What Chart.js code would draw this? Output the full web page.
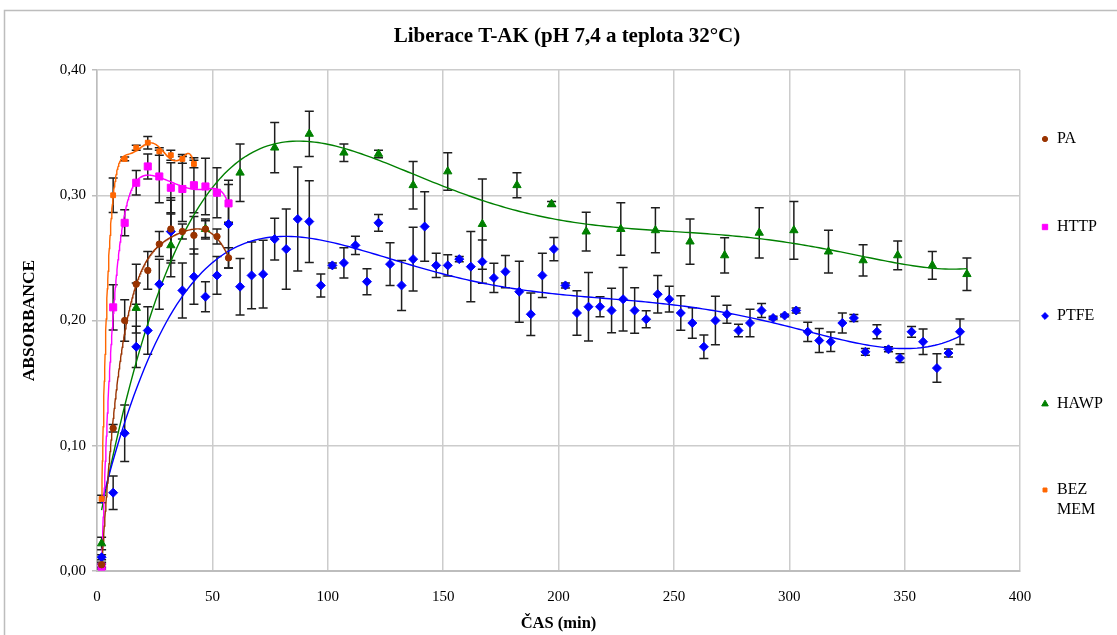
<!DOCTYPE html>
<html lang="cs">
<head>
<meta charset="utf-8">
<title>Liberace T-AK</title>
<script src="https://cdn.jsdelivr.net/npm/chart.js@4.4.1/dist/chart.umd.min.js"></script>
<style>
  html, body { margin: 0; padding: 0; background: #fff; }
  #wrap { width: 1117px; height: 635px; position: relative; }
</style>
</head>
<body>
<div id="wrap"><canvas id="c" width="1117" height="635"></canvas></div>
<script>
// Sampling times (min), mean absorbance and error (± half-width) per membrane
const paTime  = [2, 7, 12, 17, 22, 27, 32, 37, 42, 47, 52, 57];
const paAbs   = [0.005, 0.114, 0.200, 0.229, 0.240, 0.261, 0.273, 0.271, 0.268, 0.273, 0.267, 0.250];
const paErr   = [0.002, 0.003, 0.0165, 0.016, 0.015, 0.010, 0.025, 0.006, 0.015, 0.008, 0.006, 0.008];

const httpTime = [2, 7, 12, 17, 22, 27, 32, 37, 42, 47, 52, 57];
const httpAbs  = [0.0035, 0.2105, 0.278, 0.310, 0.323, 0.315, 0.306, 0.305, 0.308, 0.307, 0.302, 0.2935];
const httpErr  = [0.002, 0.018, 0.0104, 0.0098, 0.010, 0.021, 0.020, 0.026, 0.022, 0.0226, 0.020, 0.015];

const ptfeTime = [2, 7, 12, 17, 22, 27, 32, 37, 42, 47, 52, 57, 62, 67, 72, 77, 82, 87, 92, 97,
                  102, 107, 112, 117, 122, 127, 132, 137, 142, 147, 152, 157, 162, 167, 172, 177,
                  183, 188, 193, 198, 203, 208, 213, 218, 223, 228, 233, 238, 243, 248, 253, 258,
                  263, 268, 273, 278, 283, 288, 293, 298, 303, 308, 313, 318, 323, 328, 333, 338,
                  343, 348, 353, 358, 364, 369, 374];
const ptfeAbs  = [0.011, 0.0625, 0.110, 0.179, 0.192, 0.229, 0.271, 0.224, 0.235, 0.219, 0.236, 0.277,
                  0.227, 0.236, 0.237, 0.265, 0.257, 0.281, 0.279, 0.228, 0.244, 0.246, 0.260, 0.231,
                  0.278, 0.245, 0.228, 0.249, 0.275, 0.244, 0.244, 0.249, 0.243, 0.247, 0.234, 0.239,
                  0.223, 0.205, 0.236, 0.257, 0.228, 0.206, 0.211, 0.211, 0.208, 0.217, 0.208, 0.201,
                  0.221, 0.217, 0.206, 0.198, 0.179, 0.200, 0.205, 0.192, 0.198, 0.208, 0.202, 0.204,
                  0.208, 0.191, 0.184, 0.183, 0.198, 0.202, 0.175, 0.191, 0.177, 0.170, 0.191, 0.183,
                  0.162, 0.174, 0.191];
const ptfeErr  = [0.002, 0.0133, 0.0226, 0.0165, 0.019, 0.020, 0.025, 0.022, 0.022, 0.012, 0.015, 0.035,
                  0.0226, 0.0266, 0.027, 0.0166, 0.032, 0.0415, 0.0326, 0.0092, 0.002, 0.012, 0.0073, 0.0104,
                  0.0067, 0.017, 0.020, 0.0254, 0.0277, 0.0097, 0.0085, 0.002, 0.028, 0.0172, 0.0117, 0.0128,
                  0.0244, 0.0169, 0.0177, 0.0093, 0.002, 0.0177, 0.0274, 0.008, 0.0177, 0.0254, 0.0182, 0.0068,
                  0.015, 0.0103, 0.0137, 0.0122, 0.0094, 0.0193, 0.0072, 0.005, 0.011, 0.0056, 0.0013, 0.001,
                  0.002, 0.0077, 0.0096, 0.0078, 0.008, 0.0027, 0.0027, 0.0056, 0.002, 0.0035, 0.0043, 0.0102,
                  0.0114, 0.0032, 0.0101];

const hawpTime = [2, 17, 32, 47, 62, 77, 92, 107, 122, 137, 152, 167, 182, 197, 212, 227, 242, 257,
                  272, 287, 302, 317, 332, 347, 362, 377];
const hawpAbs  = [0.022, 0.210, 0.260, 0.273, 0.318, 0.338, 0.349, 0.334, 0.333, 0.308, 0.319, 0.277,
                  0.308, 0.293, 0.271, 0.273, 0.272, 0.263, 0.252, 0.270, 0.272, 0.255, 0.248, 0.252,
                  0.244, 0.237];
const hawpErr  = [0.005, 0.020, 0.025, 0.0067, 0.023, 0.020, 0.018, 0.007, 0.003, 0.019, 0.015, 0.036,
                  0.010, 0.002, 0.0155, 0.021, 0.018, 0.018, 0.014, 0.020, 0.023, 0.017, 0.0125, 0.0115,
                  0.011, 0.013];

const bezTime = [2, 7, 12, 17, 22, 27, 32, 37, 42];
const bezAbs  = [0.0575, 0.300, 0.329, 0.338, 0.342, 0.335, 0.332, 0.329, 0.325];
const bezErr  = [0.003, 0.0138, 0.0015, 0.002, 0.005, 0.003, 0.004, 0.0035, 0.003];

const seriesNames = ['PA', 'HTTP', 'PTFE', 'HAWP', 'BEZ MEM'];
const xTicks = [0, 50, 100, 150, 200, 250, 300, 350, 400];
const yTicks = [0, 0.1, 0.2, 0.3, 0.4];

// polynomial trendline order for each series
const trendOrder = [6, 6, 5, 5, 6];

const series = [
  { name: seriesNames[0], t: paTime,   a: paAbs,   e: paErr,   color: '#993300', style: 'circle',   r: 3.2, lr: 2.6 },
  { name: seriesNames[1], t: httpTime, a: httpAbs, e: httpErr, color: '#FF00FF', style: 'rect',     r: 5,   lr: 3.8 },
  { name: seriesNames[2], t: ptfeTime, a: ptfeAbs, e: ptfeErr, color: '#0000FF', style: 'rectRot',  r: 4.5, lr: 3.4 },
  { name: seriesNames[3], t: hawpTime, a: hawpAbs, e: hawpErr, color: '#008000', style: 'triangle', r: 4.8, lr: 3.8 },
  { name: seriesNames[4], t: bezTime,  a: bezAbs,  e: bezErr,  color: '#FF6600', style: 'rect',     r: 3.4, lr: 2.8 }
];

// least-squares polynomial fit (x normalised to [-1, 1] for stability)
function polyfit(xs, ys, deg) {
  const lo = Math.min(...xs), hi = Math.max(...xs);
  const c0 = (lo + hi) / 2, s = (hi - lo) / 2;
  const m = deg + 1;
  const A = Array.from({ length: m }, () => new Array(m + 1).fill(0));
  xs.forEach((xv, k) => {
    const u = (xv - c0) / s;
    const p = [1];
    for (let j = 1; j < 2 * m; j++) p.push(p[j - 1] * u);
    for (let i = 0; i < m; i++) {
      for (let j = 0; j < m; j++) A[i][j] += p[i + j];
      A[i][m] += p[i] * ys[k];
    }
  });
  for (let c = 0; c < m; c++) {
    let piv = c;
    for (let r = c + 1; r < m; r++) if (Math.abs(A[r][c]) > Math.abs(A[piv][c])) piv = r;
    [A[c], A[piv]] = [A[piv], A[c]];
    for (let r = 0; r < m; r++) {
      if (r === c) continue;
      const f = A[r][c] / A[c][c];
      for (let j = c; j <= m; j++) A[r][j] -= f * A[c][j];
    }
  }
  const coef = A.map((row, i) => row[m] / row[i]);
  return { lo, hi, f: v => { const u = (v - c0) / s; let r = 0; for (let i = m - 1; i >= 0; i--) r = r * u + coef[i]; return r; } };
}

// trendline drawn across the measured time range of the series
function trendPoints(t, a, deg) {
  const fit = polyfit(t, a, deg);
  const pts = [];
  const steps = 240;
  for (let i = 0; i <= steps; i++) {
    const xv = fit.lo + (fit.hi - fit.lo) * i / steps;
    pts.push({ x: xv, y: fit.f(xv) });
  }
  return pts;
}

const pointSets = series.map(s => ({
  label: s.name,
  data: s.t.map((tv, i) => ({ x: tv, y: s.a[i] })),
  showLine: false,
  pointStyle: s.style,
  pointRadius: s.r,
  pointBackgroundColor: s.color,
  pointBorderColor: s.color,
  pointBorderWidth: 1,
  order: 0
}));

const trendSets = series.map((s, k) => ({
  label: s.name + ' trend',
  data: trendPoints(s.t, s.a, trendOrder[k]),
  showLine: true,
  pointRadius: 0,
  borderColor: s.color,
  borderWidth: 1.4,
  tension: 0,
  order: 1
}));

const fontFamily = "'Liberation Serif', 'Times New Roman', serif";

// page frame, title, axis titles and legend
const decorations = {
  id: 'decorations',
  beforeDraw(chart) {
    const ctx = chart.ctx;
    ctx.save();
    ctx.fillStyle = '#fff';
    ctx.fillRect(0, 0, chart.width, chart.height);
    ctx.strokeStyle = '#bdbdbd';
    ctx.lineWidth = 1.5;
    ctx.strokeRect(4.5, 10.5, chart.width + 20, chart.height + 20);
    ctx.restore();
  },
  afterDraw(chart) {
    const ctx = chart.ctx;
    const area = chart.chartArea;
    ctx.save();
    ctx.fillStyle = '#000';
    ctx.textAlign = 'center';
    ctx.textBaseline = 'middle';
    ctx.font = 'bold 21px ' + fontFamily;
    ctx.fillText('Liberace T-AK (pH 7,4 a teplota 32°C)', 567, 37);
    ctx.font = 'bold 16.5px ' + fontFamily;
    ctx.fillText('ČAS (min)', (area.left + area.right) / 2, 624);
    ctx.save();
    ctx.translate(29, (area.top + area.bottom) / 2);
    ctx.rotate(-Math.PI / 2);
    ctx.font = 'bold 17.5px ' + fontFamily;
    ctx.fillText('ABSORBANCE', 0, 0);
    ctx.restore();

    // legend
    const rows = [139, 227, 316, 404, 490];
    ctx.font = '16px ' + fontFamily;
    ctx.textAlign = 'left';
    series.forEach((s, i) => {
      ctx.fillStyle = s.color;
      ctx.strokeStyle = s.color;
      ctx.lineWidth = 1;
      Chart.helpers.drawPoint(ctx, { pointStyle: s.style, radius: s.lr, rotation: 0, borderWidth: 1 }, 1045, rows[i]);
      ctx.fillStyle = '#000';
      const words = s.name.split(' ');
      words.forEach((w, j) => ctx.fillText(w, 1057, rows[i] + j * 20));
    });
    ctx.restore();
  }
};

// vertical error bars with caps
const errorBars = {
  id: 'errorBars',
  beforeDatasetsDraw(chart) {
    const { ctx, scales } = chart;
    const xs = scales.x, ys = scales.y;
    ctx.save();
    ctx.strokeStyle = '#1e1e1e';
    ctx.lineWidth = 1.5;
    const cap = 4.5;
    series.forEach(s => {
      s.t.forEach((tv, i) => {
        const px = xs.getPixelForValue(tv);
        const top = ys.getPixelForValue(s.a[i] + s.e[i]);
        const bot = ys.getPixelForValue(s.a[i] - s.e[i]);
        ctx.beginPath();
        ctx.moveTo(px, top); ctx.lineTo(px, bot);
        ctx.moveTo(px - cap, top); ctx.lineTo(px + cap, top);
        ctx.moveTo(px - cap, bot); ctx.lineTo(px + cap, bot);
        ctx.stroke();
      });
    });
    ctx.restore();
  }
};

Chart.defaults.font.family = fontFamily;
Chart.defaults.color = '#000';

new Chart(document.getElementById('c'), {
  type: 'scatter',
  data: { datasets: [...pointSets, ...trendSets] },
  options: {
    responsive: false,
    animation: false,
    events: [],
    layout: { padding: { top: 70, right: 97, left: 0, bottom: 0 } },
    plugins: { legend: { display: false }, tooltip: { enabled: false }, title: { display: false } },
    scales: {
      x: {
        type: 'linear',
        min: xTicks[0],
        max: xTicks[xTicks.length - 1],
        afterBuildTicks: sc => { sc.ticks = xTicks.map(v => ({ value: v })); },
        afterFit: sc => { sc.height = 64; },
        grid: { color: '#cccccc', lineWidth: 1.5, drawTicks: false },
        border: { color: '#bdbdbd', width: 2 },
        ticks: { font: { size: 15 }, padding: 17, maxRotation: 0, callback: v => String(v) }
      },
      y: {
        type: 'linear',
        min: yTicks[0],
        max: yTicks[yTicks.length - 1],
        afterBuildTicks: sc => { sc.ticks = yTicks.map(v => ({ value: v })); },
        afterFit: sc => { sc.width = 97; },
        grid: { color: '#cccccc', lineWidth: 1.5, drawTicks: true, tickLength: 5, tickColor: '#bdbdbd' },
        border: { color: '#bdbdbd', width: 1.5 },
        ticks: { font: { size: 15 }, padding: 6, callback: v => v.toFixed(2).replace('.', ',') }
      }
    }
  },
  plugins: [decorations, errorBars]
});
</script>
</body>
</html>
